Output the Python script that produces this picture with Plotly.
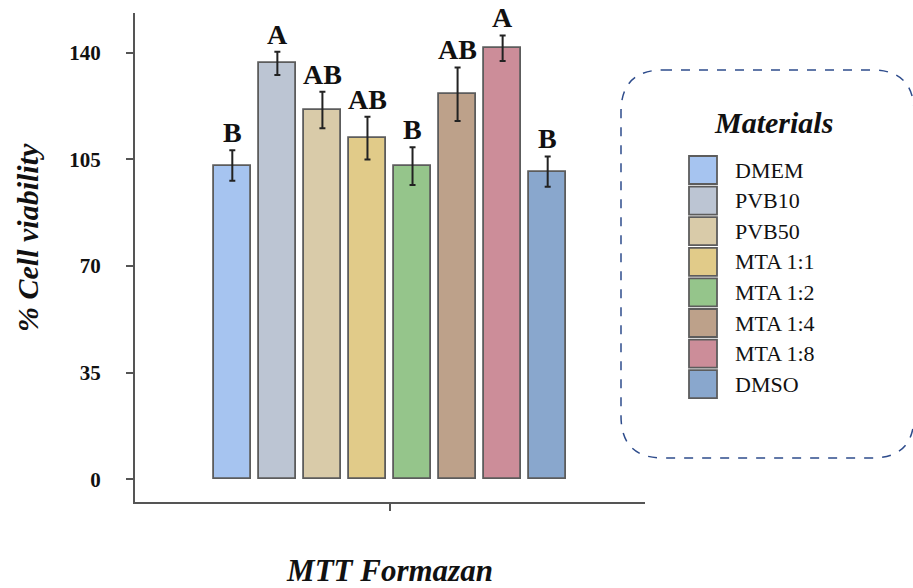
import plotly.graph_objects as go

materials = ["DMEM", "PVB10", "PVB50", "MTA 1:1", "MTA 1:2", "MTA 1:4", "MTA 1:8", "DMSO"]
viability = [103.0, 136.5, 121.2, 112.0, 102.8, 126.4, 141.5, 101.0]
errors = [5.0, 3.8, 6.0, 7.0, 6.2, 8.8, 4.2, 5.0]
letters = ["B", "A", "AB", "AB", "B", "AB", "A", "B"]
colors = ["#a6c4f0", "#bcc5d3", "#d9cba9", "#e1cb89", "#95c58b", "#bda18a", "#cc8d99", "#89a7cd"]
yticks = [0, 35, 70, 105, 140]

W, H = 913, 588
L, R, T, B = 135, 645, 13, 502

SERIF = "Liberation Serif, Times New Roman, serif"

fig = go.Figure()
for i, (m, v, e, c) in enumerate(zip(materials, viability, errors, colors)):
    fig.add_trace(go.Bar(
        x=[i], y=[v], name=m, width=0.83,
        marker=dict(color=c, line=dict(color="#5c5c5c", width=1.8)),
        error_y=dict(type="data", array=[e], color="#222222", thickness=2, width=3),
        showlegend=False,
    ))

annotations = []
for i, (v, e, t) in enumerate(zip(viability, errors, letters)):
    annotations.append(dict(
        x=i, y=v + e, xref="x", yref="y", text=t, showarrow=False,
        yanchor="bottom", yshift=0,
        font=dict(family=SERIF, size=28, color="#111111", weight="bold"),
    ))

def px(xp):
    return (xp - L) / (R - L)

def py(yp):
    return (B - yp) / (B - T)

# manual legend built from the category list
sw_x0, sw_x1 = 689, 717
sw_top, pitch, sw_h = 156, 30.6, 28
for i, (m, c) in enumerate(zip(materials, colors)):
    y0 = sw_top + i * pitch
    fig.add_shape(type="rect", xref="paper", yref="paper",
                  x0=px(sw_x0), x1=px(sw_x1), y0=py(y0 + sw_h), y1=py(y0),
                  fillcolor=c, line=dict(color="#5c5c5c", width=1.8))
    annotations.append(dict(
        x=px(733), y=py(y0 + sw_h / 2), xref="paper", yref="paper", text=m,
        showarrow=False, xanchor="left", yanchor="middle",
        font=dict(family=SERIF, size=22, color="#111111"),
    ))
annotations.append(dict(
    x=px(773), y=py(123), xref="paper", yref="paper", text="Materials",
    showarrow=False, xanchor="center", yanchor="middle",
    font=dict(family=SERIF, size=30, color="#111111", weight="bold", style="italic"),
))

# dashed rounded box around legend
bx0, bx1, by0, by1, rad = 621, 914, 70, 458, 42
def P(x, y):
    return f"{px(x):.5f},{py(y):.5f}"
path = (f"M{P(bx0 + rad, by0)} L{P(bx1 - rad, by0)} Q{P(bx1, by0)} {P(bx1, by0 + rad)} "
        f"L{P(bx1, by1 - rad)} Q{P(bx1, by1)} {P(bx1 - rad, by1)} "
        f"L{P(bx0 + rad, by1)} Q{P(bx0, by1)} {P(bx0, by1 - rad)} "
        f"L{P(bx0, by0 + rad)} Q{P(bx0, by0)} {P(bx0 + rad, by0)} Z")
fig.add_shape(type="path", xref="paper", yref="paper", path=path,
              line=dict(color="#2e4c8c", width=1.5, dash="dash"))

# y title
annotations.append(dict(
    x=px(27), y=py(238), xref="paper", yref="paper", text="% Cell viability",
    textangle=-90, showarrow=False, xanchor="center", yanchor="middle",
    font=dict(family=SERIF, size=30, color="#111111", weight="bold", style="italic"),
))

fig.update_layout(
    width=W, height=H,
    margin=dict(l=L, r=W - R, t=T, b=H - B, autoexpand=False),
    paper_bgcolor="white", plot_bgcolor="white",
    annotations=annotations,
    bargap=0,
    xaxis=dict(
        range=[-2.16, 9.16], tickvals=[3.5], ticktext=[""],
        showline=True, linecolor="#555555", linewidth=2,
        ticks="outside", ticklen=7, tickwidth=2, tickcolor="#555555",
        showgrid=False, zeroline=False, fixedrange=True,
        title=dict(text="MTT Formazan", standoff=47,
                   font=dict(family=SERIF, size=31, color="#111111", weight="bold", style="italic")),
    ),
    yaxis=dict(
        range=[-7.4, 153.05], tickvals=yticks,
        showline=True, linecolor="#555555", linewidth=2,
        ticks="outside", ticklen=7, tickwidth=2, tickcolor="#555555",
        showgrid=False, zeroline=False,
        tickfont=dict(family=SERIF, size=21, color="#111111", weight="bold"),
        ticklabelstandoff=21,
    ),
)

fig.write_html("out.html", config={"displayModeBar": False},
               post_script="document.body.style.margin='0';document.body.style.overflow='hidden';")
